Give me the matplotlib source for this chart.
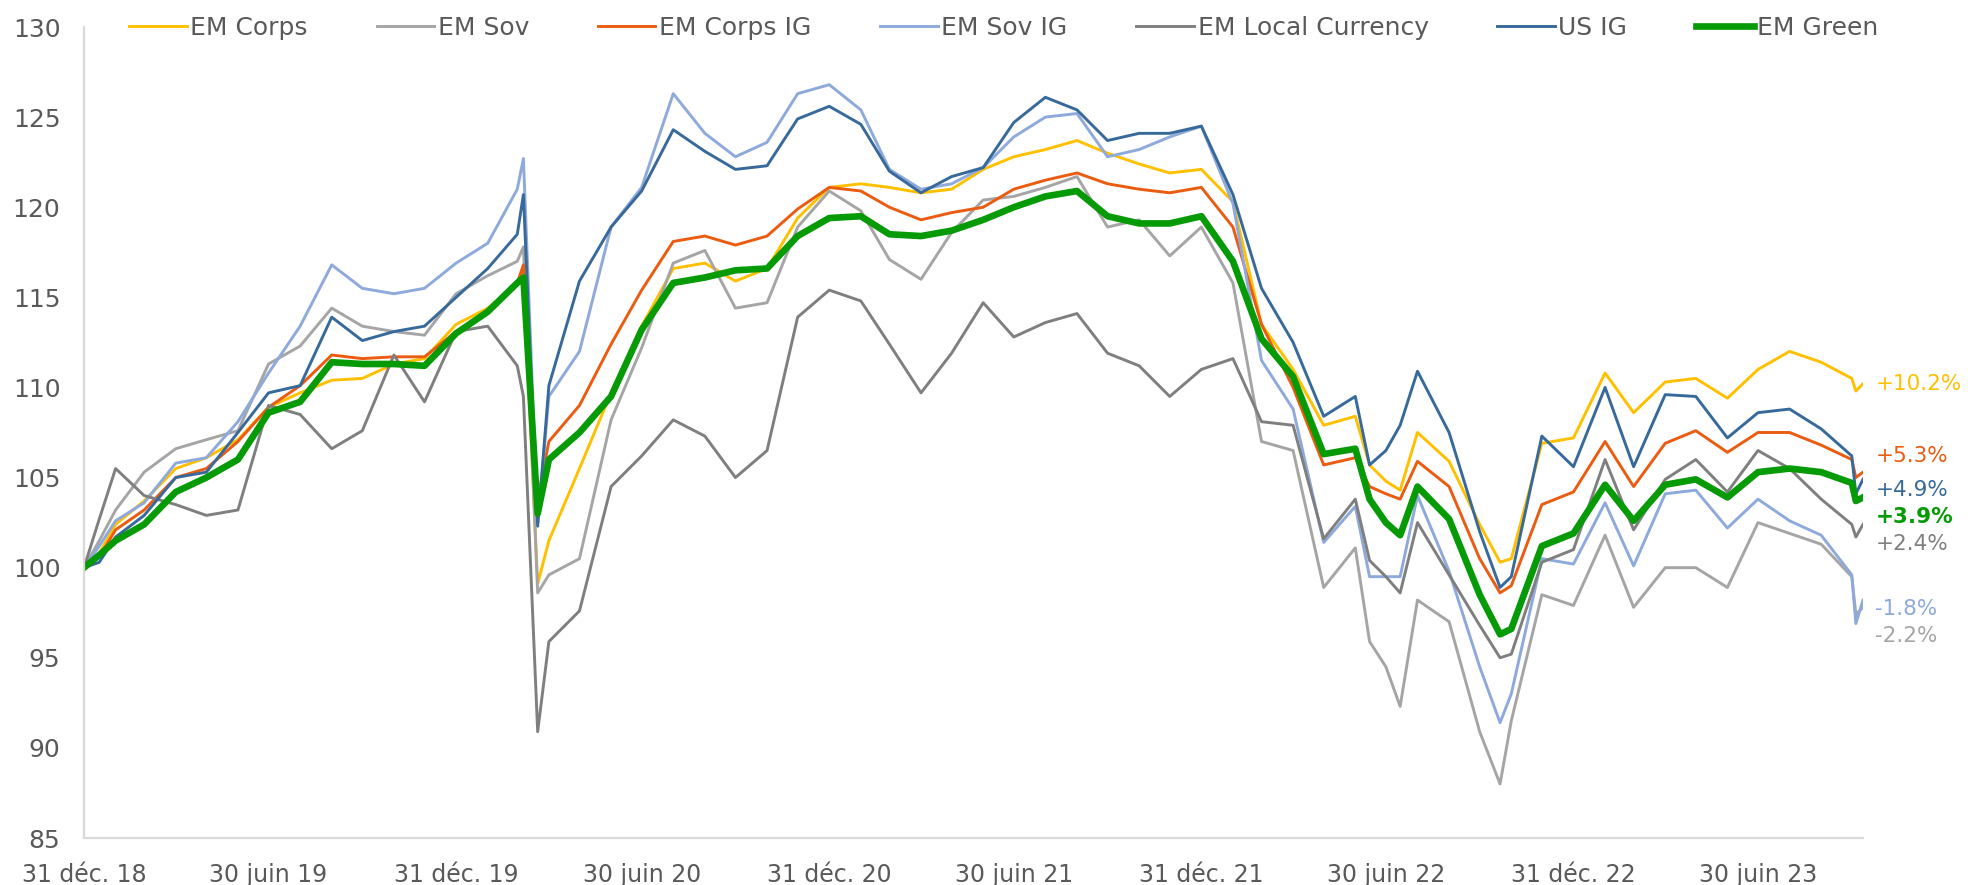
import matplotlib
matplotlib.use("Agg")
import matplotlib.pyplot as plt
import pandas as pd

# dates of the readings (month ends plus a few turning points)
dates = [
    "2018-12-31",
    "2019-01-15", "2019-01-31", "2019-02-28", "2019-03-31", "2019-04-30", "2019-05-31",
    "2019-06-30", "2019-07-31", "2019-08-31", "2019-09-30", "2019-10-31", "2019-11-30",
    "2019-12-31",
    "2020-01-31", "2020-02-29", "2020-03-06", "2020-03-20", "2020-03-31", "2020-04-30",
    "2020-05-31", "2020-06-30", "2020-07-31", "2020-08-31", "2020-09-30", "2020-10-31",
    "2020-11-30", "2020-12-31",
    "2021-01-31", "2021-02-28", "2021-03-31", "2021-04-30", "2021-05-31", "2021-06-30",
    "2021-07-31", "2021-08-31", "2021-09-30", "2021-10-31", "2021-11-30", "2021-12-31",
    "2022-01-31", "2022-02-28", "2022-03-31", "2022-04-30", "2022-05-31", "2022-06-14",
    "2022-06-30", "2022-07-14", "2022-07-31", "2022-08-31", "2022-09-30", "2022-10-20",
    "2022-10-31", "2022-11-30", "2022-12-31",
    "2023-01-31", "2023-02-28", "2023-03-31", "2023-04-30", "2023-05-31", "2023-06-30",
    "2023-07-31", "2023-08-31", "2023-09-30", "2023-10-04", "2023-10-11",
]

em_corps = [
    100,
    100.8, 102.4, 103.7, 105.5, 106.1, 107.1, 108.9, 109.7, 110.4, 110.5, 111.3, 111.6, 113.5,
    114.4, 115.7, 116.4, 99.1, 101.5, 105.5, 109.7, 113.4, 116.6, 116.9, 115.9, 116.6, 119.4, 121.1,
    121.3, 121.1, 120.8, 121.0, 122.1, 122.8, 123.2, 123.7, 123.0, 122.4, 121.9, 122.1,
    120.3, 113.5, 111.0, 107.9, 108.4, 105.7, 104.8, 104.3, 107.5, 105.9, 102.4, 100.3, 100.5, 106.9, 107.2,
    110.8, 108.6, 110.3, 110.5, 109.4, 111.0, 112.0, 111.4, 110.5, 109.8, 110.2,
]
em_sov = [
    100,
    101.5, 103.2, 105.3, 106.6, 107.1, 107.6, 111.3, 112.3, 114.4, 113.4, 113.1, 112.9, 115.2,
    116.2, 117.0, 117.8, 98.6, 99.6, 100.5, 108.2, 112.2, 116.9, 117.6, 114.4, 114.7, 118.9, 120.9,
    119.8, 117.1, 116.0, 118.6, 120.4, 120.6, 121.1, 121.7, 118.9, 119.3, 117.3, 118.9,
    115.8, 107.0, 106.5, 98.9, 101.1, 95.9, 94.5, 92.3, 98.2, 97.0, 90.9, 88.0, 91.5, 98.5, 97.9,
    101.8, 97.8, 100.0, 100.0, 98.9, 102.5, 101.9, 101.3, 99.5, 97.4, 97.8,
]
em_corps_ig = [
    100,
    100.6, 102.1, 103.2, 105.0, 105.5, 107.0, 108.9, 110.1, 111.8, 111.6, 111.7, 111.7, 113.1,
    114.2, 115.8, 116.8, 103.8, 107.0, 109.0, 112.4, 115.4, 118.1, 118.4, 117.9, 118.4, 119.9, 121.1,
    120.9, 120.0, 119.3, 119.7, 120.0, 121.0, 121.5, 121.9, 121.3, 121.0, 120.8, 121.1,
    118.9, 113.5, 110.0, 105.7, 106.1, 104.5, 104.1, 103.8, 105.9, 104.5, 100.5, 98.6, 99.0, 103.5, 104.2,
    107.0, 104.5, 106.9, 107.6, 106.4, 107.5, 107.5, 106.8, 106.0, 105.0, 105.3,
]
em_sov_ig = [
    100,
    101.2, 102.6, 103.6, 105.8, 106.1, 108.1, 110.8, 113.4, 116.8, 115.5, 115.2, 115.5, 116.9,
    118.0, 121.0, 122.7, 102.5, 109.5, 112.0, 118.9, 121.1, 126.3, 124.1, 122.8, 123.6, 126.3, 126.8,
    125.4, 122.1, 121.0, 121.3, 122.2, 123.9, 125.0, 125.2, 122.8, 123.2, 123.9, 124.5,
    120.2, 111.5, 108.8, 101.4, 103.4, 99.5, 99.5, 99.5, 104.0, 99.8, 94.5, 91.4, 93.0, 100.5, 100.2,
    103.6, 100.1, 104.1, 104.3, 102.2, 103.8, 102.6, 101.8, 99.6, 96.9, 98.2,
]
em_local = [
    100,
    102.7, 105.5, 104.0, 103.5, 102.9, 103.2, 109.0, 108.5, 106.6, 107.6, 111.8, 109.2, 113.1,
    113.4, 111.2, 109.5, 90.9, 95.9, 97.6, 104.5, 106.2, 108.2, 107.3, 105.0, 106.5, 113.9, 115.4,
    114.8, 112.4, 109.7, 111.9, 114.7, 112.8, 113.6, 114.1, 111.9, 111.2, 109.5, 111.0,
    111.6, 108.1, 107.9, 101.6, 103.8, 100.4, 99.5, 98.6, 102.5, 99.6, 96.8, 95.0, 95.2, 100.3, 101.0,
    106.0, 102.1, 104.9, 106.0, 104.2, 106.5, 105.5, 103.8, 102.4, 101.7, 102.4,
]
us_ig = [
    100,
    100.3, 101.7, 102.9, 105.0, 105.3, 107.5, 109.7, 110.1, 113.9, 112.6, 113.1, 113.4, 115.0,
    116.6, 118.5, 120.7, 102.3, 110.1, 115.9, 118.9, 120.9, 124.3, 123.1, 122.1, 122.3, 124.9, 125.6,
    124.6, 122.0, 120.8, 121.7, 122.2, 124.7, 126.1, 125.4, 123.7, 124.1, 124.1, 124.5,
    120.7, 115.5, 112.5, 108.4, 109.5, 105.7, 106.5, 107.9, 110.9, 107.5, 102.0, 98.9, 99.5, 107.3, 105.6,
    110.0, 105.6, 109.6, 109.5, 107.2, 108.6, 108.8, 107.7, 106.2, 104.1, 104.9,
]
em_green = [
    100,
    100.7, 101.5, 102.4, 104.2, 105.0, 106.0, 108.6, 109.2, 111.4, 111.3, 111.3, 111.2, 113.0,
    114.2, 115.8, 116.1, 103.0, 106.0, 107.5, 109.5, 113.2, 115.8, 116.1, 116.5, 116.6, 118.4, 119.4,
    119.5, 118.5, 118.4, 118.7, 119.3, 120.0, 120.6, 120.9, 119.5, 119.1, 119.1, 119.5,
    117.0, 112.7, 110.6, 106.3, 106.6, 103.8, 102.5, 101.8, 104.5, 102.7, 98.5, 96.3, 96.6, 101.2, 101.9,
    104.6, 102.6, 104.6, 104.9, 103.9, 105.3, 105.5, 105.3, 104.7, 103.7, 103.9,
]

series_names = ["EM Corps", "EM Sov", "EM Corps IG", "EM Sov IG",
                "EM Local Currency", "US IG", "EM Green"]
series_values = [em_corps, em_sov, em_corps_ig, em_sov_ig, em_local, us_ig, em_green]
colors = ["#FFC000", "#A5A5A5", "#EB5B10", "#8EA9DB", "#7F7F7F", "#376A9B", "#069A06"]

end_labels = ["+10.2%", "-2.2%", "+5.3%", "-1.8%", "+2.4%", "+4.9%", "+3.9%"]
end_label_y = [110.2, 96.2, 106.2, 97.7, 101.3, 104.3, 102.8]

tick_dates = ["2018-12-31", "2019-06-30", "2019-12-31", "2020-06-30", "2020-12-31",
              "2021-06-30", "2021-12-31", "2022-06-30", "2022-12-31", "2023-06-30"]
tick_labels = ["31 déc. 18", "30 juin 19", "31 déc. 19", "30 juin 20", "31 déc. 20",
               "30 juin 21", "31 déc. 21", "30 juin 22", "31 déc. 22", "30 juin 23"]


def main():
    x = pd.to_datetime(dates)
    text_color = "#595959"

    fig = plt.figure(figsize=(19.68, 8.85), dpi=100)
    ax = fig.add_axes([84 / 1968, 1 - 838 / 885, (1863 - 84) / 1968, (838 - 27) / 885])

    handles = []
    for name, values, color in zip(series_names, series_values, colors):
        lw = 4.8 if name == "EM Green" else 2.1
        (line,) = ax.plot(x, values, color=color, lw=lw, label=name,
                          solid_joinstyle="round")
        handles.append(line)

    ax.set_xlim(x[0], x[-1])
    ax.set_ylim(85, 130)
    ax.set_yticks(range(85, 131, 5))
    ax.set_xticks(pd.to_datetime(tick_dates))
    ax.set_xticklabels(tick_labels)
    ax.tick_params(axis="both", length=0, labelsize=17, colors=text_color)
    ax.tick_params(axis="y", pad=17, labelsize=18)
    ax.tick_params(axis="x", pad=18)

    for side in ["top", "right"]:
        ax.spines[side].set_visible(False)
    for side in ["left", "bottom"]:
        ax.spines[side].set_color("#D9D9D9")
        ax.spines[side].set_linewidth(1.6)

    for label, y, color in zip(end_labels, end_label_y, colors):
        weight = "bold" if label == "+3.9%" else "normal"
        ax.text(1.007, y, label, transform=ax.get_yaxis_transform(),
                color=color, fontsize=15.5, fontweight=weight, va="center",
                ha="left", clip_on=False)

    fig.legend(
        handles,
        series_names,
        loc="center left",
        bbox_to_anchor=(129 / 1968, 1 - 28 / 885),
        ncol=7,
        frameon=False,
        fontsize=18,
        handlelength=2.3,
        handletextpad=0.15,
        columnspacing=2.75,
        borderpad=0,
        borderaxespad=0,
        labelcolor=text_color,
    )

    fig.savefig("out.png", dpi=100)


if __name__ == "__main__":
    main()
